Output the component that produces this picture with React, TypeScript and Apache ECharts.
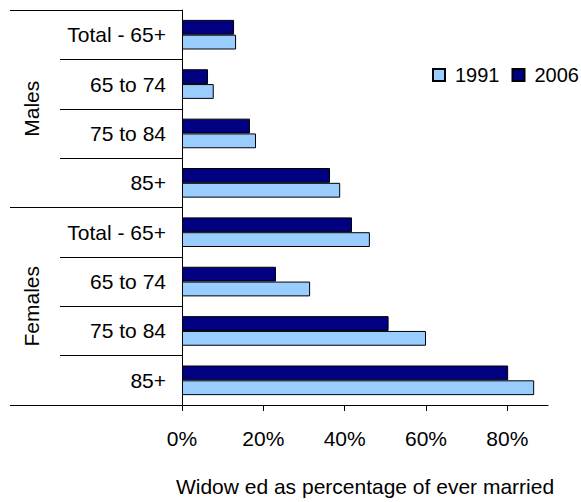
import React, { useEffect, useRef } from "react";
import * as echarts from "echarts";

const categories = [
  "Total - 65+",
  "65 to 74",
  "75 to 84",
  "85+",
  "Total - 65+ ",
  "65 to 74 ",
  "75 to 84 ",
  "85+ ",
];
const groups = ["Males", "Females"];
const values1991 = [13.3, 7.8, 18.2, 38.9, 46.2, 31.5, 60.0, 86.6];
const values2006 = [12.8, 6.4, 16.7, 36.4, 41.8, 23.1, 50.8, 80.2];
const xTicks = [0, 20, 40, 60, 80];

const FONT = "'Liberation Sans', Arial, sans-serif";

export default function App() {
  const ref = useRef<HTMLDivElement>(null);
  useEffect(() => {
    document.body.style.margin = "0";
    const chart = echarts.init(ref.current!, null, { renderer: "svg" });
    chart.setOption({
      animation: false,
      textStyle: { fontFamily: FONT, color: "#000" },
      legend: {
        left: 432,
        top: 65,
        width: 149,
        padding: 0,
        itemWidth: 12,
        itemHeight: 12,
        itemGap: 12,
        icon: "rect",
        textStyle: { fontSize: 20, color: "#000", fontFamily: FONT, padding: [0, 0, 0, 5] },
        data: ["1991", "2006"],
      },
      grid: { left: 182, top: 10, width: 366, height: 399, containLabel: false },
      xAxis: {
        type: "value",
        min: 0,
        max: 90,
        interval: 10,
        name: "Widow ed as percentage of ever married",
        nameLocation: "middle",
        nameGap: 71,
        nameTextStyle: { fontSize: 21, color: "#000", fontFamily: FONT },
        splitLine: { show: false },
        axisLine: { show: true, lineStyle: { color: "#000", width: 1 } },
        axisTick: { show: true, length: 6, customValues: xTicks, lineStyle: { color: "#000" } },
        axisLabel: {
          customValues: xTicks,
          formatter: "{value}%",
          fontSize: 21,
          color: "#000",
          margin: 23,
          fontFamily: FONT,
        },
      },
      yAxis: [
        {
          type: "category",
          inverse: true,
          data: categories,
          axisLine: { show: true, lineStyle: { color: "#000", width: 1 } },
          axisTick: { show: true, length: 122, interval: 0, lineStyle: { color: "#000" } },
          axisLabel: {
            fontSize: 21,
            color: "#000",
            margin: 16,
            fontFamily: FONT,
            formatter: (v: string) => v.trim(),
          },
        },
        {
          type: "category",
          inverse: true,
          position: "left",
          data: groups,
          axisLine: { show: false },
          axisTick: { show: true, length: 172, interval: 0, lineStyle: { color: "#000" } },
          axisLabel: { fontSize: 21, color: "#000", rotate: 90, margin: 140, fontFamily: FONT },
        },
      ],
      series: [
        {
          name: "2006",
          type: "bar",
          yAxisIndex: 0,
          data: values2006,
          barGap: "0%",
          barCategoryGap: "40%",
          itemStyle: { color: "#000080", borderColor: "#000", borderWidth: 1 },
        },
        {
          name: "1991",
          type: "bar",
          yAxisIndex: 0,
          data: values1991,
          barGap: "0%",
          barCategoryGap: "40%",
          itemStyle: { color: "#99CCFF", borderColor: "#000", borderWidth: 1 },
        },
      ],
    });
    return () => chart.dispose();
  }, []);
  return <div ref={ref} style={{ width: 581, height: 502 }} />;
}
